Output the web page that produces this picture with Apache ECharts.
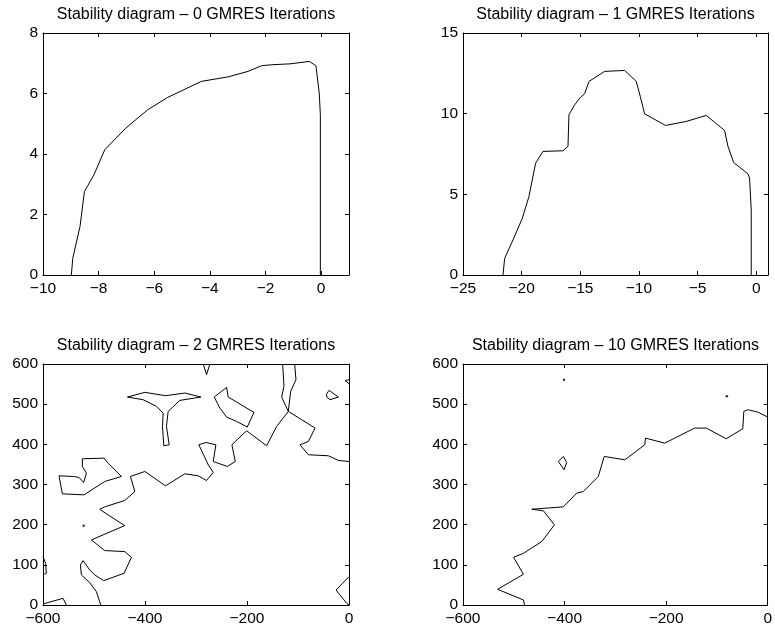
<!DOCTYPE html>
<html>
<head>
<meta charset="utf-8">
<script src="https://cdn.jsdelivr.net/npm/echarts@6/dist/echarts.min.js"></script>
<style>
  html, body { margin: 0; padding: 0; background: #fff; }
  #chart { width: 775px; height: 632px; }
</style>
</head>
<body>
<div id="chart"></div>
<script>
// Panel titles
const titles = [
  'Stability diagram \u2013 0 GMRES Iterations',
  'Stability diagram \u2013 1 GMRES Iterations',
  'Stability diagram \u2013 2 GMRES Iterations',
  'Stability diagram \u2013 10 GMRES Iterations'
];

// Axis ranges and tick values per panel
const xRanges = [[-10, 1], [-25, 1], [-600, 0], [-600, 0]];
const yRanges = [[0, 8], [0, 15], [0, 600], [0, 600]];
const xTicks = [
  [-10, -8, -6, -4, -2, 0],
  [-25, -20, -15, -10, -5, 0],
  [-600, -400, -200, 0],
  [-600, -400, -200, 0]
];
const yTicks = [
  [0, 2, 4, 6, 8],
  [0, 5, 10, 15],
  [0, 100, 200, 300, 400, 500, 600],
  [0, 100, 200, 300, 400, 500, 600]
];

// 0 GMRES iterations: stability boundary
const boundary0 = [
  [-8.98, 0], [-8.93, 0.55], [-8.67, 1.6], [-8.51, 2.76], [-8.17, 3.31],
  [-7.78, 4.14], [-7.02, 4.86], [-6.24, 5.46], [-5.52, 5.87], [-4.31, 6.40],
  [-3.35, 6.55], [-2.63, 6.73], [-2.14, 6.92], [-1.78, 6.95], [-1.12, 6.98],
  [-0.43, 7.06], [-0.19, 6.92], [-0.07, 6.02], [-0.03, 5.30], [-0.03, 0]
];

// 1 GMRES iteration: stability boundary
const boundary1 = [
  [-21.59, 0], [-21.45, 1.03], [-20.74, 2.17], [-19.94, 3.52], [-19.38, 4.86],
  [-18.81, 6.93], [-18.18, 7.66], [-16.48, 7.70], [-16.05, 7.97], [-15.97, 9.93],
  [-15.48, 10.55], [-15.0, 11.0], [-14.63, 11.24], [-14.26, 12.0], [-12.93, 12.62],
  [-11.22, 12.68], [-10.23, 12.0], [-9.89, 11.07], [-9.52, 9.99], [-7.73, 9.27],
  [-5.97, 9.52], [-4.26, 9.89], [-2.70, 8.96], [-2.41, 7.97], [-1.93, 6.97],
  [-0.71, 6.27], [-0.57, 6.0], [-0.43, 4.03], [-0.43, 0]
];

// 2 GMRES iterations: contour pieces
const contour2Main = [
  [-486.8, 0], [-495.3, 33.2], [-508.4, 55.7], [-524.7, 74.8], [-526.7, 99.7],
  [-521.5, 110.5], [-508.4, 87.3], [-498.6, 74.8], [-480.9, 60.7], [-441, 78.9],
  [-426.6, 118.8], [-439.7, 133], [-479, 135.5], [-505.1, 162], [-439.7, 197.8],
  [-475.7, 226.9], [-488.7, 238.5], [-477, 245.2], [-439.7, 260.1], [-420, 282.6],
  [-428.5, 320], [-400.4, 332.4], [-359.8, 296.7], [-321.9, 326.6], [-295.7, 321.6],
  [-279.3, 310], [-266.2, 330], [-276, 349], [-294.4, 398.9], [-280.6, 404.7],
  [-261, 398.9], [-266.2, 357.3], [-238.7, 344.9], [-223, 357.3], [-229.6, 398.9],
  [-200.8, 433.8], [-161.5, 396.4], [-141.9, 444.6], [-119, 482], [-132, 517.7],
  [-127.5, 544.3], [-130.1, 600]
];
const contour2Right = [
  [-106.5, 600], [-104, 561], [-114.4, 531.9], [-119, 482], [-66.6, 440.5],
  [-79.7, 407.2], [-96.1, 398.9], [-79.7, 374], [-40.4, 371.5], [-20.8, 359.8],
  [0, 357.3]
];
const contour2BottomLeft = [[-600, 2.5], [-560.7, 16.6], [-554.2, 0]];
const contour2LeftEdge = [[-600, 120.5], [-594.8, 103.9], [-593.5, 79], [-600, 74.8]];
const contour2Fork = [
  [-434.4, 517.7], [-400.4, 529.4], [-359.8, 521.1], [-321.9, 527.7], [-290.4, 517.7],
  [-331.7, 509.4], [-354.6, 482], [-357.9, 444.6], [-352.6, 398.9], [-363.1, 396.4],
  [-365.7, 444.6], [-364.4, 477.8], [-377.5, 494.5], [-403.7, 511.1], [-434.4, 517.7]
];
const contour2TopNotch = [[-285.9, 600], [-279.3, 573.4], [-272.8, 600]];
const contour2Island = [
  [-264.3, 517.7], [-240, 541.8], [-236.8, 517.7], [-186.4, 479.5], [-199.5, 443],
  [-220.4, 457.1], [-240, 467.9], [-253.1, 490.3], [-264.3, 517.7]
];
const contour2SmallLoop = [
  [-43.7, 526], [-39.1, 534.4], [-20.8, 517.7], [-37.2, 511.1], [-43.7, 517.7], [-43.7, 526]
];
const contour2TopRight = [[0, 561], [-7.7, 558.5], [0, 551]];
const contour2BottomRight = [[0, 70.6], [-25.4, 37.4], [-4.5, 4.2], [0, 0]];
const contour2Loop = [
  [-568.6, 321.6], [-539.8, 320], [-529.3, 317.5], [-520.2, 305], [-514.9, 328.3],
  [-522.8, 344.9], [-522.8, 364], [-480.2, 365.7], [-472.4, 353.2], [-446.2, 320],
  [-478.9, 307.5], [-519.5, 274.2], [-562, 276.7], [-568.6, 321.6]
];
const contour2Dots = [[-520.2, 197]];

// 10 GMRES iterations: contour pieces
const contour10Main = [
  [-478.9, 0], [-480.9, 12.5], [-531.9, 39.1], [-480.9, 76.5], [-500.5, 118.8],
  [-480.9, 128.8], [-444.9, 157.9], [-420, 199.5], [-441.6, 234.4], [-464.5, 238.5],
  [-402.4, 244.3], [-376.2, 278.4], [-363.1, 282.6], [-333.6, 320], [-321.9, 369.8],
  [-281.3, 361.5], [-242, 398.9], [-240.7, 415.5], [-202.7, 403], [-143.8, 440.5],
  [-121, 440.5], [-81.7, 413.9], [-49, 438.8], [-47, 482], [-39.1, 486.2],
  [-19.5, 480.3], [0, 467.9]
];
const contour10Loop = [
  [-412.2, 357.3], [-402.4, 369.8], [-395.8, 354.9], [-401, 336.6], [-412.2, 357.3]
];
const contour10Dots = [[-401, 561], [-80.4, 519.4]];

const panelLines = [
  [boundary0],
  [boundary1],
  [contour2Main, contour2Right, contour2BottomLeft, contour2LeftEdge, contour2Fork,
   contour2TopNotch, contour2Island, contour2SmallLoop, contour2TopRight,
   contour2BottomRight, contour2Loop],
  [contour10Main, contour10Loop]
];
const panelDots = [[], [], contour2Dots, contour10Dots];

// Plot box geometry (px)
const boxes = [
  { left: 43, top: 33, width: 306, height: 242 },
  { left: 463, top: 33, width: 305, height: 242 },
  { left: 43, top: 364, width: 306, height: 241 },
  { left: 463, top: 364, width: 305, height: 241 }
];

const FONT = '"Liberation Sans", Arial, Helvetica, sans-serif';
const fmt = v => String(v).replace('-', '\u2212');

const grid = [], xAxis = [], yAxis = [], series = [], graphic = [];

boxes.forEach((b, i) => {
  grid.push({ left: b.left, top: b.top, width: b.width, height: b.height, containLabel: false });
  const mk = (pos, range, ticks, labels) => ({
    type: 'value', gridIndex: i, position: pos,
    min: range[0], max: range[1],
    axisLine: { show: true, onZero: false, lineStyle: { color: '#000', width: 1 } },
    axisTick: { show: true, inside: true, length: 4, customValues: ticks,
                lineStyle: { color: '#000', width: 1 } },
    axisLabel: { show: labels, customValues: ticks, formatter: fmt, color: '#000',
                 fontSize: 15.5, fontFamily: FONT, margin: pos === 'bottom' ? 6 : 5 },
    splitLine: { show: false }
  });
  xAxis.push(mk('bottom', xRanges[i], xTicks[i], true));
  xAxis.push(mk('top', xRanges[i], xTicks[i], false));
  yAxis.push(mk('left', yRanges[i], yTicks[i], true));
  yAxis.push(mk('right', yRanges[i], yTicks[i], false));

  panelLines[i].forEach(seg => {
    series.push({
      type: 'line', xAxisIndex: 2 * i, yAxisIndex: 2 * i, data: seg,
      showSymbol: false, symbol: 'none', silent: true,
      lineStyle: { color: '#000', width: 1 }
    });
  });
  if (panelDots[i].length) {
    series.push({
      type: 'scatter', xAxisIndex: 2 * i, yAxisIndex: 2 * i, data: panelDots[i],
      symbol: 'circle', symbolSize: 2.5, silent: true,
      itemStyle: { color: '#000' }
    });
  }

  graphic.push({
    type: 'text', x: b.left + b.width / 2, y: b.top - 26, silent: true,
    style: { text: titles[i], fill: '#000', font: '16px ' + FONT,
             textAlign: 'center', textVerticalAlign: 'top' }
  });
});

const chart = echarts.init(document.getElementById('chart'), null, { renderer: 'canvas' });
chart.setOption({
  animation: false,
  backgroundColor: '#fff',
  grid, xAxis, yAxis, series, graphic
});
</script>
</body>
</html>
